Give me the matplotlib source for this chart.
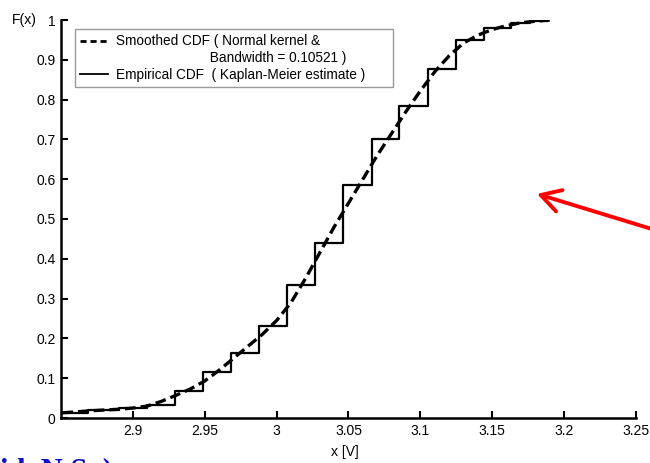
import matplotlib.pyplot as plt
from matplotlib.lines import Line2D
from matplotlib.patches import FancyArrowPatch

plt.rcParams['font.family'] = ['Liberation Sans', 'DejaVu Sans']

# Empirical CDF (Kaplan-Meier) step data: jump locations and level after each jump
ecdf_x = [2.851, 2.869, 2.890, 2.910, 2.929, 2.949, 2.968, 2.988, 3.007, 3.027,
          3.046, 3.066, 3.085, 3.105, 3.125, 3.144, 3.163, 3.176, 3.188]
ecdf_f = [0.013, 0.020, 0.024, 0.033, 0.068, 0.115, 0.163, 0.230, 0.335, 0.440,
          0.585, 0.700, 0.785, 0.876, 0.951, 0.979, 0.992, 0.998, 0.998]

# Smoothed CDF (normal kernel)
smooth_x = [2.851, 2.87, 2.89, 2.90, 2.91, 2.92, 2.93, 2.94, 2.95, 2.96, 2.97,
            2.98, 2.99, 3.00, 3.01, 3.02, 3.03, 3.04, 3.05, 3.06, 3.07, 3.08,
            3.09, 3.10, 3.11, 3.12, 3.13, 3.14, 3.15, 3.16, 3.17, 3.18, 3.19]
smooth_f = [0.013, 0.018, 0.022, 0.025, 0.030, 0.042, 0.057, 0.073, 0.093, 0.120, 0.150,
            0.180, 0.210, 0.245, 0.290, 0.350, 0.415, 0.480, 0.540, 0.600, 0.660, 0.715,
            0.770, 0.822, 0.870, 0.910, 0.942, 0.962, 0.976, 0.986, 0.993, 0.997, 1.0]

xticks = [2.9, 2.95, 3.0, 3.05, 3.1, 3.15, 3.2, 3.25]
xtick_labels = ['2.9', '2.95', '3', '3.05', '3.1', '3.15', '3.2', '3.25']
yticks = [0, 0.1, 0.2, 0.3, 0.4, 0.5, 0.6, 0.7, 0.8, 0.9, 1.0]
ytick_labels = ['0', '0.1', '0.2', '0.3', '0.4', '0.5', '0.6', '0.7', '0.8', '0.9', '1']

legend_labels = ['Smoothed CDF ( Normal kernel &',
                 '                         Bandwidth = 0.10521 )',
                 'Empirical CDF  ( Kaplan-Meier estimate )      ']

fig = plt.figure(figsize=(6.5, 4.63), dpi=100)
ax = fig.add_axes([61 / 650, 1 - 418 / 463, (636 - 61) / 650, (418 - 20) / 463])

ax.step(ecdf_x, ecdf_f, where='post', color='black', lw=1.6)
ax.plot(smooth_x, smooth_f, color='black', lw=2.4, linestyle=(0, (3.2, 1.5)))

ax.set_xlim(2.85, 3.25)
ax.set_ylim(0, 1)
ax.set_xticks(xticks)
ax.set_xticklabels(xtick_labels)
ax.set_yticks(yticks)
ax.set_yticklabels(ytick_labels)
ax.tick_params(direction='in', length=5, width=1.5, labelsize=10, pad=4)
for s in ['top', 'right']:
    ax.spines[s].set_visible(False)
for s in ['left', 'bottom']:
    ax.spines[s].set_linewidth(1.8)

fig.text(12 / 650, 1 - 20 / 463, 'F(x)', fontsize=10, va='center', ha='left')
fig.text(345 / 650, 1 - 452 / 463, 'x [V]', fontsize=10, va='center', ha='center')

handles = [Line2D([], [], color='black', lw=2, linestyle=(0, (2.2, 1.4))),
           Line2D([], [], color='none'),
           Line2D([], [], color='black', lw=1.3)]
leg = ax.legend(handles, legend_labels, loc='upper left',
                bbox_to_anchor=(75 / 650, 1 - 29 / 463), bbox_transform=fig.transFigure,
                fontsize=9.8, frameon=True, fancybox=False, edgecolor='#808080',
                handlelength=2.0, handletextpad=0.6, labelspacing=0.2,
                borderpad=0.4, borderaxespad=0)
leg.get_frame().set_linewidth(1.0)

# red pointer arrow from the slide
fig.patches.append(FancyArrowPatch(
    (1.02, 0.498), (0.822, 0.583), transform=fig.transFigure,
    arrowstyle='->,head_length=14,head_width=8', color='red', lw=2.8, mutation_scale=1))

# clipped slide text at the bottom
fig.text(0.0, 1 - 457 / 463, 'id  N.S. )', fontsize=22, color='#1010c8', weight='bold',
         family=['Liberation Serif', 'DejaVu Serif'], va='top', ha='left')

fig.savefig('out.png', dpi=100)
